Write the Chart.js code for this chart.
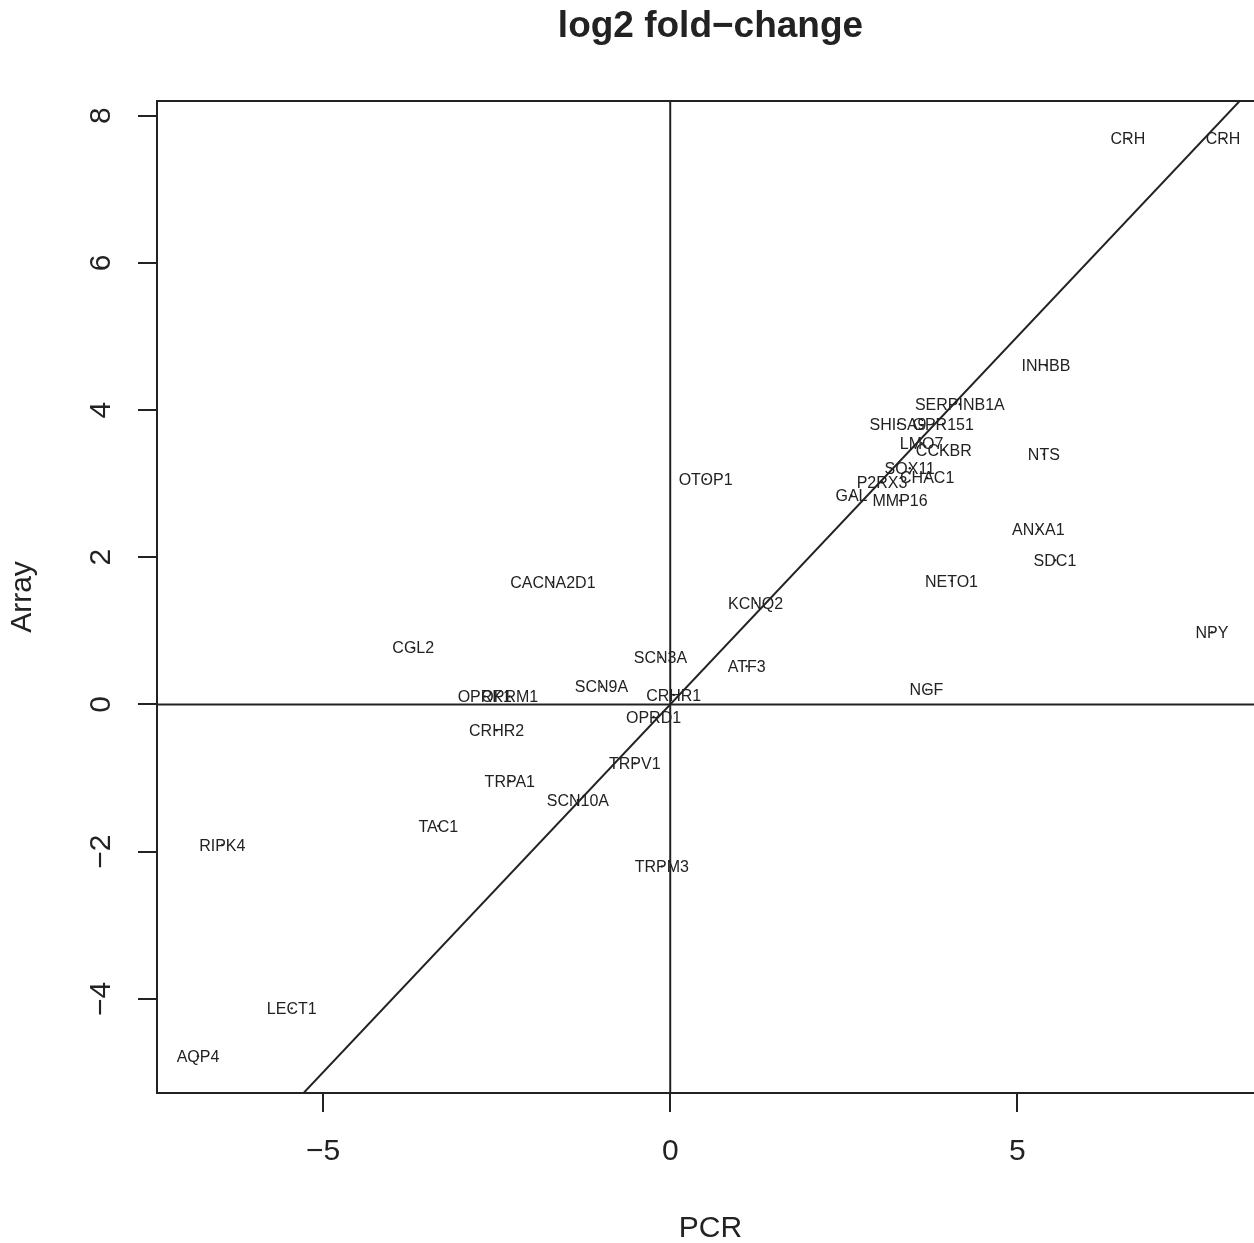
<!DOCTYPE html>
<html>
<head>
<meta charset="utf-8">
<script src="https://cdn.jsdelivr.net/npm/chart.js@4.4.1/dist/chart.umd.min.js"></script>
<style>
  html, body { margin: 0; padding: 0; background: #fff; overflow: hidden; }
</style>
</head>
<body>
<!-- the R device cut the plot's right edge off; draw a bit wider and let the window crop it -->
<canvas id="fcChart" width="1268" height="1243"></canvas>
<script>
// gene names with log2 fold-change from PCR (x) and array (y)
const genes = ['CRH', 'CRH', 'INHBB', 'SERPINB1A', 'SHISA9', 'GPR151', 'LMO7', 'CCKBR', 'NTS',
    'SOX11', 'CHAC1', 'P2RX3', 'GAL', 'MMP16', 'OTOP1', 'ANXA1', 'SDC1', 'CACNA2D1', 'NETO1',
    'KCNQ2', 'NPY', 'CGL2', 'SCN3A', 'ATF3', 'SCN9A', 'NGF', 'OPRK1', 'OPRM1', 'CRHR1', 'OPRD1',
    'CRHR2', 'TRPV1', 'TRPA1', 'SCN10A', 'TAC1', 'TRPM3', 'RIPK4', 'LECT1', 'AQP4'];
const pcr = [6.59, 7.96, 5.41, 4.17, 3.28, 3.93, 3.62, 3.94, 5.38,
    3.45, 3.70, 3.05, 2.61, 3.31, 0.51, 5.30, 5.54, -1.69, 4.05,
    1.23, 7.80, -3.70, -0.14, 1.10, -0.99, 3.69, -2.67, -2.31, 0.05, -0.24,
    -2.50, -0.51, -2.31, -1.33, -3.34, -0.12, -6.45, -5.45, -6.80];
const arr = [7.69, 7.69, 4.61, 4.08, 3.81, 3.81, 3.55, 3.46, 3.40,
    3.21, 3.08, 3.02, 2.84, 2.77, 3.06, 2.38, 1.96, 1.66, 1.68,
    1.38, 0.98, 0.77, 0.64, 0.52, 0.24, 0.20, 0.11, 0.11, 0.13, -0.17,
    -0.35, -0.80, -1.04, -1.30, -1.65, -2.20, -1.91, -4.13, -4.78];

const xTicks = [-5, 0, 5];
const yTicks = [-4, -2, 0, 2, 4, 6, 8];
const xRange = [-7.39, 8.55];
const yRange = [-5.28, 8.2];
const refSpan = [-20, 20];   // y = x, x = 0 and y = 0 reference lines

const ink = '#222';
const fam = "'Liberation Sans', Arial, Helvetica, sans-serif";
Chart.defaults.font.family = fam;
Chart.defaults.color = ink;

const minus = v => (v < 0 ? '\u2212' + Math.abs(v) : String(v));

// gene names centred on their points (like R text())
const geneLabels = {
    id: 'geneLabels',
    afterDatasetsDraw(chart) {
        const ctx = chart.ctx;
        const meta = chart.getDatasetMeta(3);
        ctx.save();
        ctx.font = '16px ' + fam;
        ctx.fillStyle = ink;
        ctx.textAlign = 'center';
        ctx.textBaseline = 'alphabetic';
        meta.data.forEach((pt, i) => ctx.fillText(genes[i], pt.x, pt.y + 5.7));
        ctx.restore();
    }
};

// box around the plot and y tick labels turned like R's las=0
const frame = {
    id: 'frame',
    afterDraw(chart) {
        const { ctx, chartArea: a, scales: { y } } = chart;
        ctx.save();
        ctx.strokeStyle = ink;
        ctx.lineWidth = 2;
        ctx.strokeRect(a.left, a.top, a.right - a.left, a.bottom - a.top);
        ctx.font = '30px ' + fam;
        ctx.fillStyle = ink;
        ctx.textAlign = 'center';
        ctx.textBaseline = 'alphabetic';
        yTicks.forEach(v => {
            ctx.save();
            ctx.translate(a.left - 47, y.getPixelForValue(v));
            ctx.rotate(-Math.PI / 2);
            ctx.fillText(minus(v), 0, 0);
            ctx.restore();
        });
        ctx.restore();
    }
};

const refLine = data => ({
    data,
    showLine: true,
    pointRadius: 0,
    borderColor: ink,
    borderWidth: 2
});

const tickGrid = { drawOnChartArea: false, drawTicks: true, tickLength: 19, lineWidth: 2, color: ink };

new Chart(document.getElementById('fcChart').getContext('2d'), {
    type: 'scatter',
    data: {
        datasets: [
            refLine(refSpan.map(v => ({ x: 0, y: v }))),
            refLine(refSpan.map(v => ({ x: v, y: 0 }))),
            refLine(refSpan.map(v => ({ x: v, y: v }))),
            {
                data: pcr.map((v, i) => ({ x: v, y: arr[i] })),
                pointRadius: 1.2,
                pointBackgroundColor: ink,
                pointBorderWidth: 0
            }
        ]
    },
    options: {
        responsive: false,
        animation: false,
        events: [],
        layout: { padding: 0 },
        plugins: {
            legend: { display: false },
            tooltip: { enabled: false },
            title: {
                display: true,
                text: 'log2 fold\u2212change',
                fullSize: false,
                color: ink,
                font: { size: 37, weight: 'bold' },
                padding: { top: 5, bottom: 51.6 }
            }
        },
        scales: {
            x: {
                type: 'linear',
                min: xRange[0],
                max: xRange[1],
                afterBuildTicks: s => { s.ticks = xTicks.map(v => ({ value: v })); },
                afterFit: s => { s.height = 150; },
                grid: tickGrid,
                border: { display: false },
                ticks: { font: { size: 30 }, padding: 22, color: ink, maxRotation: 0, autoSkip: false, callback: v => minus(v) },
                title: { display: true, text: 'PCR', color: ink, font: { size: 30, lineHeight: 1 }, padding: { top: 0, bottom: -1 } }
            },
            y: {
                type: 'linear',
                min: yRange[0],
                max: yRange[1],
                afterBuildTicks: s => { s.ticks = yTicks.map(v => ({ value: v })); },
                afterFit: s => { s.width = 157; },
                grid: tickGrid,
                border: { display: false },
                ticks: { display: false },
                title: { display: true, text: 'Array', color: ink, font: { size: 30, lineHeight: 1 }, padding: { top: 7.5, bottom: 0 } }
            }
        }
    },
    plugins: [geneLabels, frame]
});
</script>
</body>
</html>
